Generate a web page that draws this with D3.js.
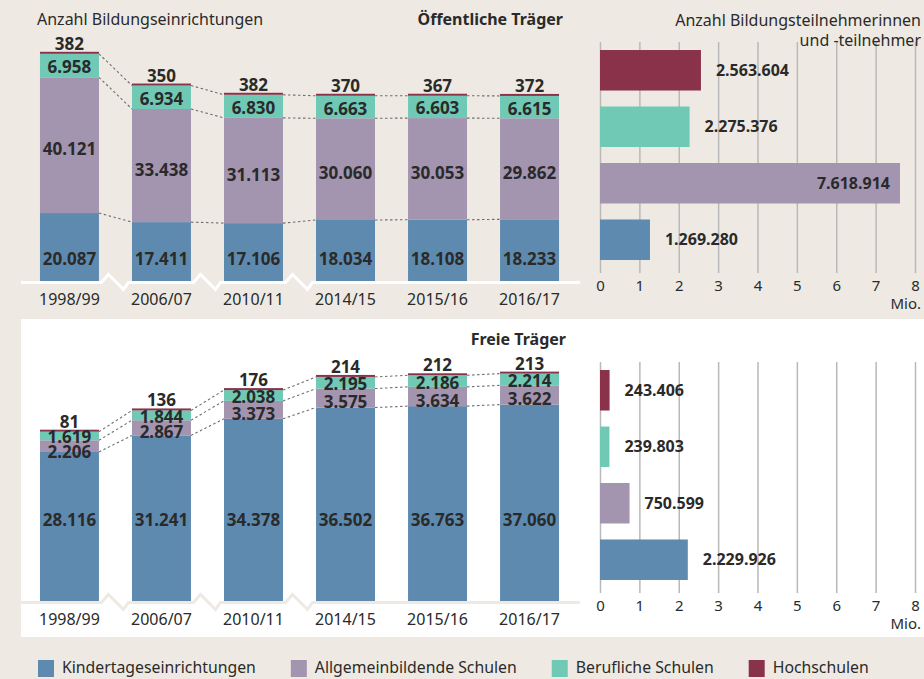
<!DOCTYPE html>
<html>
<head>
<meta charset="utf-8">
<script src="https://cdn.jsdelivr.net/npm/d3@7"></script>
<style>
body { margin: 0; background: #eeeae3; }
svg { display: block; font-family: "Noto Sans", sans-serif; }
</style>
</head>
<body>
<svg width="924" height="679"></svg>
<script>
"use strict";
// --- data ---
var years = ['1998/99', '2006/07', '2010/11', '2014/15', '2015/16', '2016/17'];
var oeffKita = [20087, 17411, 17106, 18034, 18108, 18233];
var oeffAllg = [40121, 33438, 31113, 30060, 30053, 29862];
var oeffBeruf = [6958, 6934, 6830, 6663, 6603, 6615];
var oeffHoch = [382, 350, 382, 370, 367, 372];
var freiKita = [28116, 31241, 34378, 36502, 36763, 37060];
var freiAllg = [2206, 2867, 3373, 3575, 3634, 3622];
var freiBeruf = [1619, 1844, 2038, 2195, 2186, 2214];
var freiHoch = [81, 136, 176, 214, 212, 213];
// Teilnehmer: kita, allg, beruf, hoch
var teilnehmerOeff = [1269280, 7618914, 2275376, 2563604];
var teilnehmerFrei = [2229926, 750599, 239803, 243406];
var mioTicks = [0, 1, 2, 3, 4, 5, 6, 7, 8];
var keys = ['kita', 'allg', 'beruf', 'hoch'];
var legendNames = ['Kindertageseinrichtungen', 'Allgemeinbildende Schulen', 'Berufliche Schulen', 'Hochschulen'];

var colors = { kita: '#5f8ab0', allg: '#a394b0', beruf: '#6fc9b5', hoch: '#8a3249' };
var textColor = '#2a2a2a';
var de = d3.formatLocale({ decimal: ',', thousands: '.', grouping: [3], currency: ['', '€'] });
var fmt = de.format(',d');

var svg = d3.select('svg');
svg.append('rect').attr('width', 924).attr('height', 679).attr('fill', '#eeeae3');
// weisses Feld fuer freie Traeger
svg.append('rect').attr('x', 21).attr('y', 319).attr('width', 903).attr('height', 318).attr('fill', '#fff');

var x = d3.scaleBand().domain(years).range([20, 579]).paddingInner(0.359).paddingOuter(0.217);
var bw = x.bandwidth();

function drawColumns(kita, allg, beruf, hoch, y0, kitaLabelY, lineColor) {
  var rows = years.map(function (yr, i) {
    return { year: yr, kita: kita[i], allg: allg[i], beruf: beruf[i], hoch: hoch[i] };
  });
  var series = d3.stack().keys(keys)(rows);
  var y = d3.scaleLinear()
    .domain([0, d3.max(series[3], function (d) { return d[1]; })])
    .range([y0, y0 - 228.5]);
  var g = svg.append('g');

  // gestrichelte Verbindungslinien
  series.slice(0, 3).forEach(function (s) {
    d3.range(years.length - 1).forEach(function (i) {
      g.append('line')
        .attr('x1', x(years[i]) + bw).attr('y1', y(s[i][1]))
        .attr('x2', x(years[i + 1])).attr('y2', y(s[i + 1][1]))
        .attr('stroke', '#6e6e6e').attr('stroke-width', 1.1)
        .attr('stroke-dasharray', '2.5,2.5');
    });
  });

  series.forEach(function (s) {
    g.selectAll(null).data(s).enter().append('rect')
      .attr('x', function (d) { return x(d.data.year); })
      .attr('width', bw)
      .attr('y', function (d) { return Math.min(y(d[1]), y(d[0]) - 2); })
      .attr('height', function (d) { return Math.max(2, y(d[0]) - y(d[1])); })
      .attr('fill', colors[s.key]);
  });

  // Grundlinie mit Bruchzeichen
  var yb = y0 + 1.5;
  var pts = [[21, yb]];
  [0, 1, 2].forEach(function (i) {
    var c = (x(years[i]) + bw + x(years[i + 1])) / 2;
    pts.push([c - 14, yb], [c - 7, yb - 8], [c + 8, yb + 7], [c + 13, yb]);
  });
  pts.push([580, yb]);
  g.append('path').attr('d', d3.line()(pts))
    .attr('fill', 'none').attr('stroke', lineColor).attr('stroke-width', 3);

  g.selectAll(null).data(years).enter().append('text')
    .attr('x', function (d) { return x(d) + bw / 2; })
    .attr('y', y0 + 24)
    .attr('text-anchor', 'middle')
    .attr('font-size', 16).attr('fill', textColor)
    .text(function (d) { return d; });

  // Werte
  rows.forEach(function (r, i) {
    var cx = x(r.year) + bw / 2;
    var sb = series[2][i], sa = series[1][i], sh = series[3][i];
    var berufY = (y(sb[0]) + y(sb[1])) / 2 + 7.5;
    var allgY = Math.max((y(sa[0]) + y(sa[1])) / 2 + 10, berufY + 14.5);
    var labels = [
      [r.hoch, Math.min(y(sh[1]), y(sh[0]) - 2) - 2],
      [r.beruf, berufY],
      [r.allg, allgY],
      [r.kita, kitaLabelY]
    ];
    labels.forEach(function (l) {
      g.append('text')
        .attr('x', cx).attr('y', l[1])
        .attr('text-anchor', 'middle')
        .attr('font-size', 17).attr('font-weight', 'bold').attr('fill', textColor)
        .text(fmt(l[0]));
    });
  });
}

function drawBars(values, oy) {
  var xm = d3.scaleLinear().domain([0, 8]).range([600, 915]);
  var yk = d3.scaleBand().domain(['hoch', 'beruf', 'allg', 'kita'])
    .range([42 + oy, 268 + oy]).paddingInner(0.283).paddingOuter(0.142);
  var g = svg.append('g');
  var axis = g.append('g')
    .attr('transform', 'translate(0,' + (273 + oy) + ')')
    .call(d3.axisBottom(xm).tickValues(mioTicks).tickSize(-231).tickPadding(7).tickFormat(function (d) { return d; }));
  axis.select('.domain').remove();
  axis.selectAll('line').attr('stroke', '#b9b9b9').attr('stroke-width', 1.5);
  axis.selectAll('text').attr('font-size', 15).attr('font-family', '"Noto Sans", sans-serif').attr('fill', textColor);

  var data = keys.map(function (k, i) { return { key: k, v: values[i] }; });
  g.selectAll(null).data(data).enter().append('rect')
    .attr('x', xm(0))
    .attr('y', function (d) { return yk(d.key); })
    .attr('width', function (d) { return xm(d.v / 1e6) - xm(0); })
    .attr('height', yk.bandwidth())
    .attr('fill', function (d) { return colors[d.key]; });
  g.selectAll(null).data(data).enter().append('text')
    .attr('x', function (d) { var e = xm(d.v / 1e6); return e > 850 ? e - 10 : e + 15; })
    .attr('y', function (d) { return yk(d.key) + yk.bandwidth() / 2 + 5.5; })
    .attr('text-anchor', function (d) { return xm(d.v / 1e6) > 850 ? 'end' : 'start'; })
    .attr('font-size', 16).attr('font-weight', 'bold').attr('fill', textColor)
    .text(function (d) { return fmt(d.v); });
  g.append('text').attr('x', 921).attr('y', 309 + oy)
    .attr('text-anchor', 'end').attr('font-size', 15).attr('fill', textColor)
    .text('Mio.');
}

drawColumns(oeffKita, oeffAllg, oeffBeruf, oeffHoch, 281, 265, '#fff');
drawColumns(freiKita, freiAllg, freiBeruf, freiHoch, 601, 526, '#eeeae3');
drawBars(teilnehmerOeff, 0);
drawBars(teilnehmerFrei, 320);

// Titel
function label(t, xx, yy, anchor, bold) {
  svg.append('text').attr('x', xx).attr('y', yy).attr('text-anchor', anchor)
    .attr('font-size', 16).attr('font-weight', bold ? 'bold' : 'normal')
    .attr('fill', textColor).text(t);
}
label('Anzahl Bildungseinrichtungen', 37, 25, 'start', false);
label('Öffentliche Träger', 563, 25, 'end', true);
label('Freie Träger', 566, 345, 'end', true);
label('Anzahl Bildungsteilnehmerinnen', 921, 26, 'end', false);
label('und -teilnehmer', 921, 46, 'end', false);

// Legende
var lx = 38;
keys.forEach(function (k, i) {
  svg.append('rect').attr('x', lx).attr('y', 660).attr('width', 16).attr('height', 17).attr('fill', colors[k]);
  var t = svg.append('text').attr('x', lx + 24).attr('y', 673)
    .attr('font-size', 15.8).attr('fill', textColor).text(legendNames[i]);
  lx += 24 + t.node().getComputedTextLength() + 35;
});
</script>
</body>
</html>
